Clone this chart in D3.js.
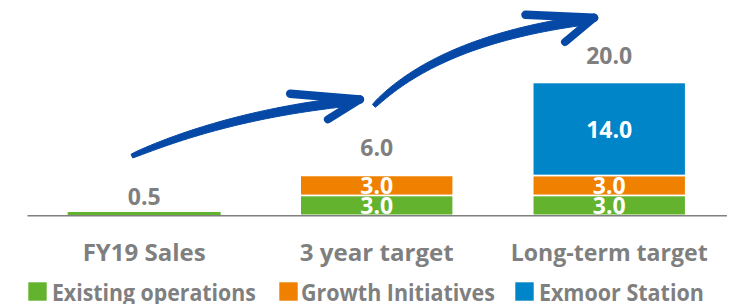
<!DOCTYPE html>
<html>
<head>
<meta charset="utf-8">
<script src="https://cdn.jsdelivr.net/npm/d3@7/dist/d3.min.js"></script>
<style>
  html, body { margin: 0; padding: 0; background: #fff; }
  svg { display: block; }
  text { font-family: "Open Sans", "DejaVu Sans", sans-serif; font-weight: 700; }
</style>
</head>
<body>
<svg id="chart" width="729" height="304"></svg>
<script>
// ---- data ----
const categories = ["FY19 Sales", "3 year target", "Long-term target"];
const seriesNames = ["Existing operations", "Growth Initiatives", "Exmoor Station"];
const existingOps = [0.5, 3.0, 3.0];
const growthInit = [0.0, 3.0, 3.0];
const exmoorStation = [0.0, 0.0, 14.0];
const totalLabels = ["0.5", "6.0", "20.0"];
const seriesColors = ["#63b32e", "#f08100", "#0086c8"];

// arrows in (category index, value) coordinates
const arrows = [
  { p0: [-0.053, 8.92], c: [0.368, 15.27], p2: [0.905, 17.23],
    barbA: [0.628, 18.32], tip: [0.928, 17.45], barbB: [0.79, 14.45] },
  { p0: [0.988, 16.48], c: [1.271, 26.4], p2: [1.90, 29.40],
    barbA: [1.640, 30.20], tip: [1.935, 29.75], barbB: [1.81, 26.1] }
];

const W = 729, H = 304;
const svg = d3.select("#chart");
const gray = "#7f7f7f";
const FS = 23;

const x = d3.scaleBand().domain(categories).range([27, 726.4])
  .paddingInner(0.342).paddingOuter(0.175);
const y = d3.scaleLinear().domain([0, 20]).range([215.3, 82.5]);
const xi = d3.scaleLinear().domain([0, 2])
  .range([x(categories[0]) + x.bandwidth() / 2, x(categories[2]) + x.bandwidth() / 2]);

const rows = categories.map((c, i) => ({
  cat: c, [seriesNames[0]]: existingOps[i], [seriesNames[1]]: growthInit[i], [seriesNames[2]]: exmoorStation[i]
}));
const stacked = d3.stack().keys(seriesNames)(rows);

// bars
const gBars = svg.append("g");
stacked.forEach((layer, si) => {
  gBars.selectAll(null).data(layer.filter(d => d[1] - d[0] > 0)).enter()
    .append("rect")
    .attr("x", d => x(d.data.cat))
    .attr("width", x.bandwidth())
    .attr("y", d => y(d[1]))
    .attr("height", d => y(d[0]) - y(d[1]))
    .attr("fill", seriesColors[si])
    .attr("stroke", "#fff")
    .attr("stroke-width", d => d.data.cat === categories[0] ? 0 : 1.6);
});

// segment labels
const multi = categories.map((c, i) => [existingOps[i], growthInit[i], exmoorStation[i]].filter(v => v > 0).length > 1);
stacked.forEach((layer, si) => {
  svg.selectAll(null).data(layer.filter((d, i) => multi[i] && d[1] - d[0] > 0)).enter()
    .append("text")
    .attr("x", d => x(d.data.cat) + x.bandwidth() / 2)
    .attr("y", d => (y(d[0]) + y(d[1])) / 2 + 8.8)
    .attr("text-anchor", "middle")
    .attr("fill", "#fff")
    .attr("font-size", FS)
    .text(d => (d[1] - d[0]).toFixed(1));
});

// total labels
const totals = categories.map((c, i) => existingOps[i] + growthInit[i] + exmoorStation[i]);
svg.selectAll(null).data(categories).enter().append("text")
  .attr("x", d => x(d) + x.bandwidth() / 2)
  .attr("y", (d, i) => y(totals[i]) - (multi[i] ? 19 : 7))
  .attr("text-anchor", "middle")
  .attr("fill", gray)
  .attr("font-size", FS)
  .text((d, i) => totalLabels[i]);

// fit a text to a width (reference is a condensed face)
function fit(sel, w) {
  sel.attr("textLength", w).attr("lengthAdjust", "spacingAndGlyphs");
}

// axis
const catWidths = [123, 154, 197];
const axis = svg.append("g").attr("transform", `translate(0,${y(0)})`)
  .call(d3.axisBottom(x).tickSize(0).tickSizeOuter(0).tickPadding(29.5));
axis.select(".domain").attr("stroke", "#808080").attr("stroke-width", 1.6);
axis.selectAll("text").attr("fill", gray).attr("font-size", FS)
  .attr("font-family", "'Open Sans', sans-serif").attr("font-weight", 700)
  .each(function (d, i) { fit(d3.select(this), catWidths[i]); });

// arrows
const arrowColor = "#0548a6";
const P = p => [xi(p[0]), y(p[1])];
arrows.forEach(a => {
  const p0 = P(a.p0), c = P(a.c), p2 = P(a.p2);
  const N = 40, left = [], right = [];
  for (let k = 0; k <= N; k++) {
    const t = k / N;
    const px = (1 - t) * (1 - t) * p0[0] + 2 * (1 - t) * t * c[0] + t * t * p2[0];
    const py = (1 - t) * (1 - t) * p0[1] + 2 * (1 - t) * t * c[1] + t * t * p2[1];
    const dx = 2 * (1 - t) * (c[0] - p0[0]) + 2 * t * (p2[0] - c[0]);
    const dy = 2 * (1 - t) * (c[1] - p0[1]) + 2 * t * (p2[1] - c[1]);
    const len = Math.hypot(dx, dy);
    const nx = -dy / len, ny = dx / len;
    const w = (4 + 5.5 * Math.sqrt(t)) / 2;
    left.push([px + nx * w, py + ny * w]);
    right.push([px - nx * w, py - ny * w]);
  }
  const poly = left.concat(right.reverse());
  svg.append("path")
    .attr("d", d3.line().curve(d3.curveLinearClosed)(poly))
    .attr("fill", arrowColor)
    .attr("stroke", arrowColor)
    .attr("stroke-width", 1)
    .attr("stroke-linejoin", "round");
  const tip = P(a.tip);
  [a.barbA, a.barbB].forEach((b, bi) => {
    svg.append("path")
      .attr("d", d3.line()([P(b), tip]))
      .attr("stroke", arrowColor)
      .attr("stroke-width", bi === 0 ? 8.5 : 8)
      .attr("stroke-linecap", "round")
      .attr("fill", "none");
  });
});

// legend
const legendSquareX = [28.3, 279.3, 515.3];
const legendWidths = [204, 194, 165];
const legend = svg.append("g");
seriesNames.forEach((name, i) => {
  const lx = legendSquareX[i];
  legend.append("rect").attr("x", lx).attr("y", 282.3).attr("width", 18.4).attr("height", 18.4)
    .attr("fill", seriesColors[i]);
  const t = legend.append("text").attr("x", lx + (i === 1 ? 21.6 : 23.6)).attr("y", 300.5)
    .attr("fill", gray).attr("font-size", FS).text(name);
  fit(t, legendWidths[i]);
});
</script>
</body>
</html>
